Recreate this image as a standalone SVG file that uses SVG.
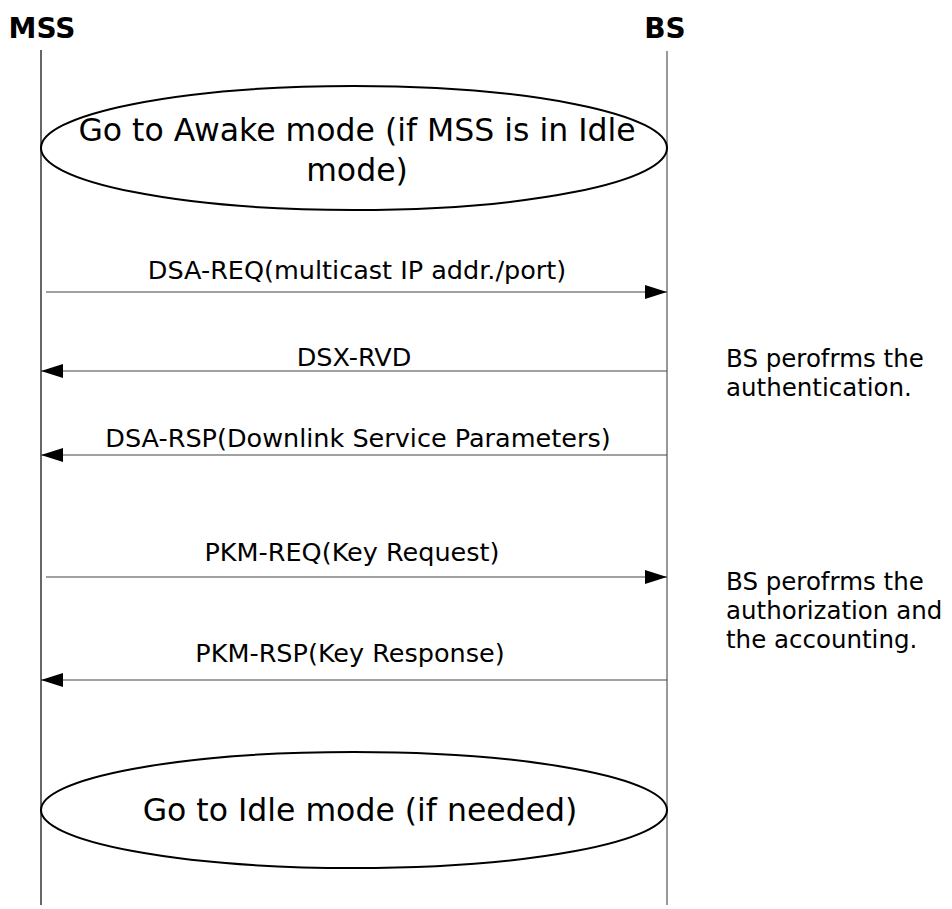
<svg xmlns="http://www.w3.org/2000/svg" width="952" height="909" viewBox="0 0 952 909">
<style>
text{font-family:"DejaVu Sans","Liberation Sans",sans-serif;fill:#000}
.t{font-size:28px;font-weight:bold;text-anchor:middle}
.e{font-size:31.5px;text-anchor:middle}
.m{font-size:25.5px;text-anchor:middle}
.n{font-size:24.5px}
.life{stroke:#000;stroke-width:1.2}
.msg{stroke:#444;stroke-width:1.2;fill:none}
.ell{fill:none;stroke:#000;stroke-width:2}
</style>
<defs>
<marker id="ah" markerWidth="22" markerHeight="14" refX="22" refY="7" orient="auto" markerUnits="userSpaceOnUse">
<path d="M0,0 L22,7 L0,14 Z" fill="#000"/>
</marker>
</defs>
<g id="MSS">
<text class="t" x="42" y="38">MSS</text>
<line class="life" x1="41" y1="50" x2="41" y2="905"/>
</g>
<g id="BS">
<text class="t" x="665" y="38">BS</text>
<line x1="667" y1="51" x2="667" y2="905" stroke="#777" stroke-width="1.5"/>
</g>
<g id="awake">
<ellipse class="ell" cx="354" cy="148" rx="313" ry="62"/>
<text class="e" x="357" y="141">Go to Awake mode (if MSS is in Idle</text>
<text class="e" x="357" y="181">mode)</text>
</g>
<g id="idle">
<ellipse class="ell" cx="354" cy="810" rx="313" ry="58"/>
<text class="e" x="360" y="821">Go to Idle mode (if needed)</text>
</g>
<g id="note1">
<text class="n" x="726" y="367">BS perofrms the</text>
<text class="n" x="726" y="396">authentication.</text>
</g>
<g id="note2">
<text class="n" x="726" y="590">BS perofrms the</text>
<text class="n" x="726" y="619">authorization and</text>
<text class="n" x="726" y="648">the accounting.</text>
</g>
<g id="connectors">
<line class="msg" x1="46" y1="292" x2="667" y2="292" marker-end="url(#ah)"/>
<text class="m" x="357" y="279">DSA-REQ(multicast IP addr./port)</text>
<line class="msg" x1="667" y1="371" x2="41" y2="371" marker-end="url(#ah)"/>
<text class="m" x="354" y="366">DSX-RVD</text>
<line class="msg" x1="667" y1="455" x2="41" y2="455" marker-end="url(#ah)"/>
<text class="m" x="358" y="447">DSA-RSP(Downlink Service Parameters)</text>
<line class="msg" x1="46" y1="577" x2="667" y2="577" marker-end="url(#ah)"/>
<text class="m" x="352" y="561">PKM-REQ(Key Request)</text>
<line class="msg" x1="667" y1="680" x2="41" y2="680" marker-end="url(#ah)"/>
<text class="m" x="350" y="662">PKM-RSP(Key Response)</text>
</g>
</svg>
